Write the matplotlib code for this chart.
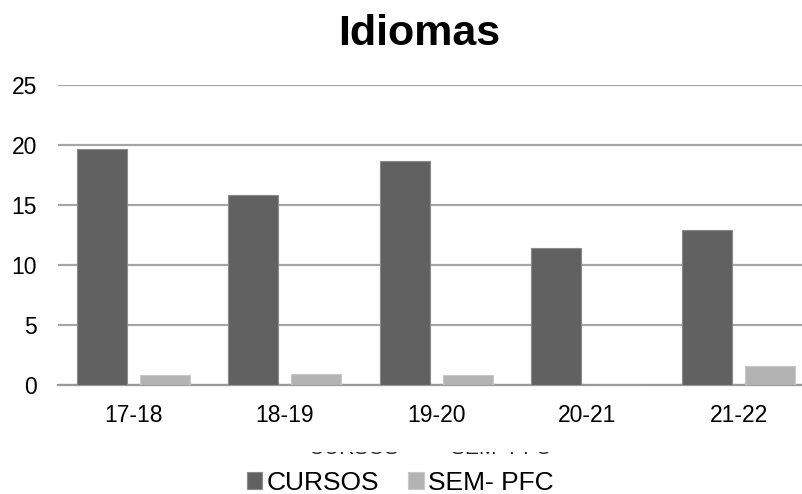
import matplotlib
matplotlib.use("Agg")
import matplotlib.pyplot as plt
import numpy as np
from matplotlib.patches import Rectangle

# data
categories = ["17-18", "18-19", "19-20", "20-21", "21-22"]
cursos = [19.7, 15.8, 18.7, 11.4, 12.9]
sem_pfc = [0.85, 0.95, 0.85, 0.0, 1.55]
series_names = ["CURSOS", "SEM- PFC"]

plt.rcParams["font.family"] = ["Liberation Sans", "DejaVu Sans"]

W, H = 803, 494
fig = plt.figure(figsize=(W / 100, H / 100), dpi=100)
fig.patch.set_facecolor("white")

# axis spans past the right edge, like the cropped original
x0, x1 = 57.9, 814.5
y0, y1 = 385, 85
ax = fig.add_axes([x0 / W, (H - y0) / H, (x1 - x0) / W, (y0 - y1) / H])

x = np.arange(len(categories))
width = 0.33
ax.bar(x - 0.208, cursos, width, color="#616161", edgecolor="#8a8a8a",
       linewidth=0.8, zorder=3, label=series_names[0])
ax.bar(x + 0.208, sem_pfc, width, color="#b3b3b3", edgecolor="#c8c8c8",
       linewidth=0.8, zorder=3, label=series_names[1])

ax.set_xlim(-0.5, len(categories) - 0.5)
ax.set_ylim(0, 25)
ax.set_yticks(range(0, 26, 5))
ax.set_xticks(x)
ax.set_xticklabels(categories)
ax.yaxis.grid(True, color="#a6a6a6", linewidth=1.6, zorder=0)
ax.tick_params(axis="both", length=0, labelsize=16.5, colors="black")
ax.tick_params(axis="x", pad=14)
ax.tick_params(axis="y", pad=15)
for s in ["top", "right", "left"]:
    ax.spines[s].set_visible(False)
ax.spines["bottom"].set_color("#9a9a9a")
ax.spines["bottom"].set_linewidth(1.6)

fig.text(419 / W, 1 - 34 / H, "Idiomas", ha="center", va="center",
         fontsize=31, fontweight="bold")

# half-hidden axis title behind the legend
fig.text(354 / W, 1 - 454 / H, series_names[0], ha="center", va="baseline",
         fontsize=15, color="#222222")
fig.text(501 / W, 1 - 454 / H, series_names[1], ha="center", va="baseline",
         fontsize=15, color="#222222")
fig.patches.append(Rectangle((0, (H - 452) / H), 1, 24 / H,
                             transform=fig.transFigure, facecolor="white",
                             edgecolor="none", zorder=5))

handles, labels = ax.get_legend_handles_labels()
leg = fig.legend(handles, labels, loc="center", bbox_to_anchor=(400 / W, 1 - 483 / H),
                 ncol=2, frameon=False, fontsize=19, handlelength=0.6,
                 handleheight=0.6, handletextpad=0.15, columnspacing=1.1,
                 borderaxespad=0, borderpad=0)
leg.set_zorder(6)

fig.savefig("out.png", dpi=100, facecolor="white")
